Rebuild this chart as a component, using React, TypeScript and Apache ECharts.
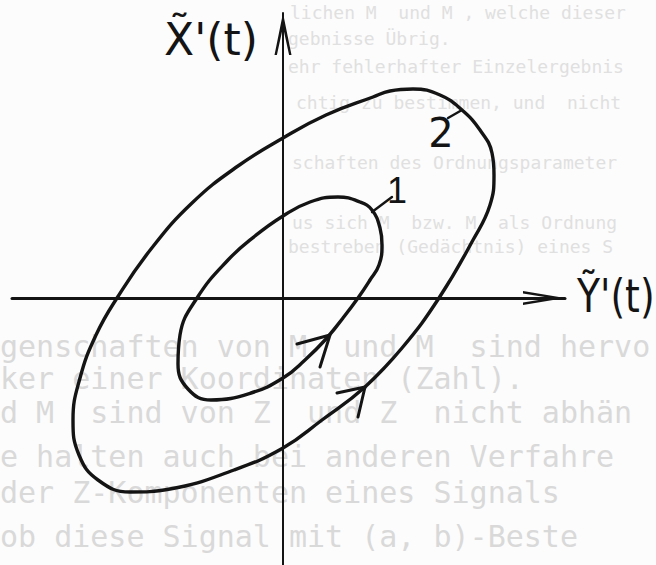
import React, { useEffect, useRef } from "react";
import * as echarts from "echarts";

// Phase-plane trajectories, in units relative to the axis crossing (y pointing up).
// Trajectory 1: inner loop
const trajectory1: [number, number][] = [
  [43, -41], [60, -20], [75, 0], [87, 18], [96, 33], [99, 53], [97, 70], [89, 88],
  [77, 96], [55, 101], [27, 96], [0, 82], [-28, 62], [-55, 38], [-86, 0],
  [-103, -37], [-105, -66], [-95, -91], [-72, -102], [-32, -95], [0, -80],
  [22, -62], [43, -41], [60, -20],
];

// Trajectory 2: outer loop
const trajectory2: [number, number][] = [
  [82, -89], [119, -50], [156, 0], [190, 58], [207, 93], [211, 123],
  [209, 145], [197, 168], [179, 188], [157, 203], [130, 209], [107, 207], [90, 201],
  [43, 183], [0, 160], [-45, 132], [-91, 95], [-132, 49], [-166, 0],
  [-187, -37], [-203, -80], [-210, -122], [-204, -157], [-185, -182], [-153, -194],
  [-113, -191], [-49, -172], [0, -150], [39, -122], [82, -89], [119, -50],
];

// Direction-of-travel arrowheads (barb, tip, barb)
const arrowhead1: [number, number][] = [[14, -46], [47, -37], [37, -69]];
const arrowhead2: [number, number][] = [[54, -95], [82, -89], [75, -119]];

// Leader strokes from the curve numbers to their loops
const leader1: [number, number][] = [[109, 101], [89, 86]];
const leader2: [number, number][] = [[165, 180], [179, 188]];

// Axis extents
const xRange = [-271, 282];
const yRange = [-267, 285];

// Titles and curve numbers
const xTitle = "X\u0303'(t)";
const yTitle = "\u1EF8'(t)";
const curveNames = ["1", "2"];

// Typed text showing through from the other side of the sheet
const pageLinesSmall = [
  "lichen M  und M , welche dieser",
  "gebnisse \u00DCbrig.",
  "ehr fehlerhafter Einzelergebnis",
  "chtig zu bestimmen, und  nicht",
  "schaften des Ordnungsparameter",
  "us sich M  bzw. M  als Ordnung",
  "bestreben (Ged\u00E4chtnis) eines S",
];
const pageLinesLarge = [
  "genschaften von M  und M  sind hervo",
  "ker einer Koordinaten (Zahl).",
  "d M  sind von Z  und Z  nicht abh\u00E4n",
  "e halten auch bei anderen Verfahre",
  "der Z-Komponenten eines Signals",
  "ob diese Signal mit (a, b)-Beste",
];
const smallLineLayout: [number, number][] = [
  [290, 12], [288, 38], [288, 66], [296, 102], [292, 162], [292, 222], [288, 246],
];
const largeLineLayout: [number, number][] = [
  [0, 346], [0, 378], [0, 412], [0, 456], [0, 492], [0, 536],
];

export default function App() {
  const ref = useRef<HTMLDivElement>(null);

  useEffect(() => {
    if (!ref.current) return;
    const chart = echarts.init(ref.current, null, { renderer: "svg" });
    const ink = "#141414";

    const curve = (name: string, data: [number, number][], width: number, smooth: number | boolean) => ({
      name,
      type: "line",
      data,
      smooth,
      symbol: "none",
      showSymbol: false,
      clip: false,
      silent: true,
      lineStyle: { color: ink, width, cap: "round", join: "round" },
      z: 3,
    });

    const hidden = { axisTick: { show: false }, axisLabel: { show: false }, splitLine: { show: false } };

    const textEl = (
      text: string,
      x: number,
      y: number,
      fontFamily: string,
      fontSize: number,
      align: string,
      fill: string,
      z: number,
      scaleX = 1
    ) => ({
      type: "text",
      x,
      y,
      scaleX,
      z,
      silent: true,
      style: {
        text,
        fontFamily,
        fontSize,
        fill,
        align,
        textAlign: align,
        verticalAlign: "middle",
        textVerticalAlign: "middle",
      },
    });

    chart.setOption({
      animation: false,
      backgroundColor: "#fcfcfc",
      grid: { left: 12, right: 91, top: 13, bottom: 0, containLabel: false, outerBoundsMode: "none" },
      xAxis: {
        type: "value",
        min: xRange[0],
        max: xRange[1],
        axisLine: {
          show: true,
          onZero: true,
          lineStyle: { color: ink, width: 3 },
          symbol: ["none", "path://M7 0L14 42L11.4 42L7 14L2.6 42L0 42Z"],
          symbolSize: [14, 42],
          symbolOffset: [0, -21],
        },
        ...hidden,
      },
      yAxis: {
        type: "value",
        min: yRange[0],
        max: yRange[1],
        axisLine: {
          show: true,
          onZero: true,
          lineStyle: { color: ink, width: 2 },
          symbol: ["none", "path://M8.5 0L17 42L14.6 42L8.5 14L2.4 42L0 42Z"],
          symbolSize: [17, 42],
          symbolOffset: [0, -21],
        },
        ...hidden,
      },
      series: [
        curve("1", trajectory1, 3.4, 0.45),
        curve("2", trajectory2, 3.4, 0.45),
        curve("arrow 1", arrowhead1, 3, false),
        curve("arrow 2", arrowhead2, 3, false),
        curve("leader 1", leader1, 2.4, false),
        curve("leader 2", leader2, 2.4, false),
      ],
      graphic: [
        ...pageLinesSmall.map((t, i) =>
          textEl(t, smallLineLayout[i][0], smallLineLayout[i][1], "DejaVu Sans Mono", 18, "left", "#e0e0e0", -10)
        ),
        ...pageLinesLarge.map((t, i) =>
          textEl(t, largeLineLayout[i][0], largeLineLayout[i][1], "DejaVu Sans Mono", 30, "left", "#d9d9d9", -10)
        ),
        textEl(xTitle, 164, 39, "DejaVu Sans", 44, "left", ink, 50),
        textEl(yTitle, 577, 296, "DejaVu Sans", 46, "left", ink, 50, 0.82),
        textEl(curveNames[0], 397, 190, "Liberation Sans", 36, "center", ink, 50),
        textEl(curveNames[1], 441, 133, "DejaVu Sans", 40, "center", ink, 50),
      ],
    });

    return () => chart.dispose();
  }, []);

  return (
    <div
      ref={ref}
      style={{ position: "absolute", left: 0, top: 0, width: 656, height: 565 }}
    />
  );
}
